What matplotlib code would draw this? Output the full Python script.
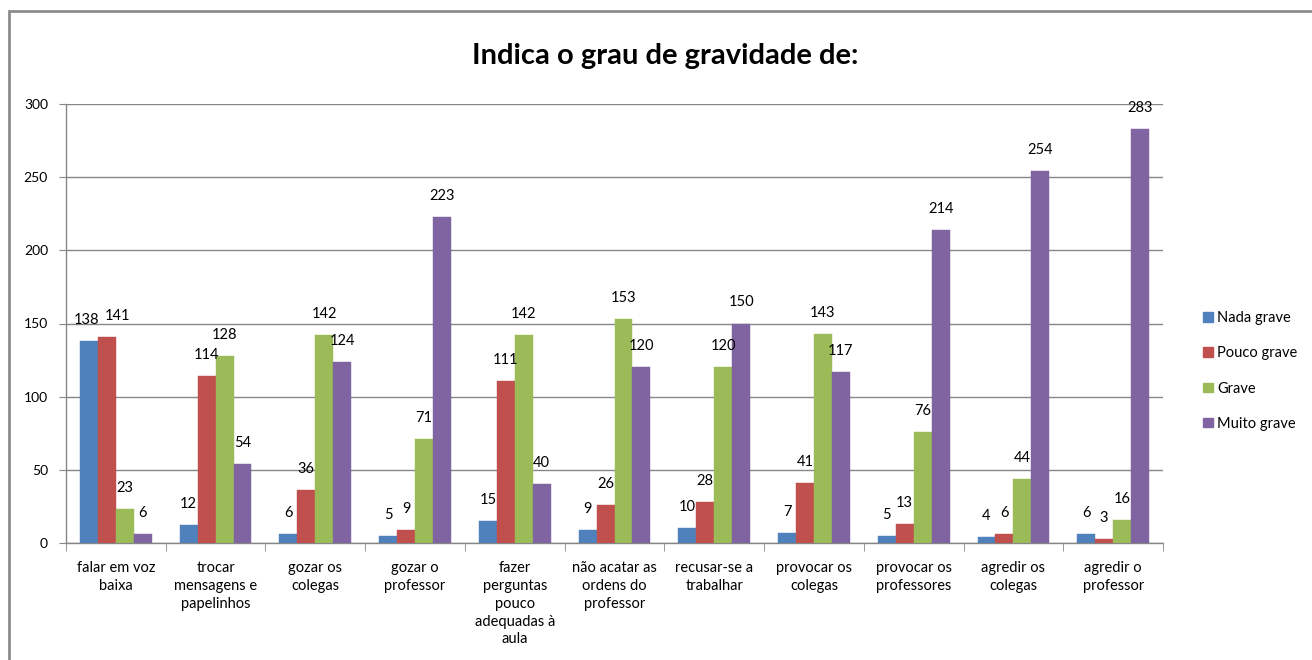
import matplotlib
matplotlib.use("Agg")
import matplotlib.pyplot as plt
import numpy as np
from matplotlib.patches import Rectangle, Patch

categories = ["falar em voz\nbaixa", "trocar\nmensagens e\npapelinhos", "gozar os\ncolegas",
              "gozar o\nprofessor", "fazer\nperguntas\npouco\nadequadas à\naula",
              "não acatar as\nordens do\nprofessor", "recusar-se a\ntrabalhar",
              "provocar os\ncolegas", "provocar os\nprofessores", "agredir os\ncolegas",
              "agredir o\nprofessor"]
series_names = ["Nada grave", "Pouco grave", "Grave", "Muito grave"]
nada_grave = [138, 12, 6, 5, 15, 9, 10, 7, 5, 4, 6]
pouco_grave = [141, 114, 36, 9, 111, 26, 28, 41, 13, 6, 3]
grave = [23, 128, 142, 71, 142, 153, 120, 143, 76, 44, 16]
muito_grave = [6, 54, 124, 223, 40, 120, 150, 117, 214, 254, 283]
series = [nada_grave, pouco_grave, grave, muito_grave]
colors = ["#4F81BD", "#C0504D", "#9BBB59", "#8064A2"]
yticks = [0, 50, 100, 150, 200, 250, 300]

plt.rcParams['font.family'] = ['Lato', 'DejaVu Sans']

W, H = 1312, 660
fig = plt.figure(figsize=(W / 100, H / 100), dpi=100)
ax = fig.add_axes([66 / W, 1 - 543 / H, (1163 - 66) / W, (543 - 104) / H])

# outer frame
fig.patches.append(Rectangle((9 / W, -0.5), 2.0, 1.5 - 11 / H, transform=fig.transFigure,
                             fill=False, edgecolor="#8c8c8c", linewidth=2, zorder=0))

# label nudges (pixels) where labels would collide
label_dx = {(0, 1): 11, (0, 0): -2}

x = np.arange(len(categories))
bw = 0.18
grid_c = "#868686"
for i, (vals, c) in enumerate(zip(series, colors)):
    pos = x + (i - 1.5) * bw
    ax.bar(pos, vals, width=bw, color=c, edgecolor=c, linewidth=0.3, zorder=3, label=series_names[i])
    for j, (px, v) in enumerate(zip(pos, vals)):
        ax.annotate(str(v), (px, v), xytext=(label_dx.get((j, i), 0), 21), textcoords="offset pixels",
                    ha="center", va="center", fontsize=10.5, color="#000000", zorder=4)

ax.set_xlim(-0.5, len(categories) - 0.5)
ax.set_ylim(0, 300)
ax.set_yticks(yticks)
ax.set_yticklabels([str(t) for t in yticks], fontsize=10)
ax.yaxis.grid(True, color=grid_c, linewidth=1, zorder=0)
ax.set_xticks(x)
ax.set_xticklabels(categories, fontsize=10.5, linespacing=1.35)
ax.set_xticks(np.arange(-0.5, len(categories)), minor=True)
ax.tick_params(axis="x", which="major", length=0, pad=13)
ax.tick_params(axis="x", which="minor", length=6, color=grid_c, direction="out")
ax.tick_params(axis="y", length=5, color=grid_c, pad=8)
for s in ["top", "right"]:
    ax.spines[s].set_visible(False)
for s in ["left", "bottom"]:
    ax.spines[s].set_color(grid_c)
    ax.spines[s].set_linewidth(1)

fig.text(665 / W, 1 - 56 / H, "Indica o grau de gravidade de:", ha="center", va="center",
         fontsize=21, fontweight="bold")

handles = [Patch(facecolor=c, edgecolor=c) for c in colors]
fig.legend(handles, series_names, loc="center left", bbox_to_anchor=(1190 / W, 1 - 371 / H),
           frameon=False, fontsize=10.5, handlelength=0.65, handleheight=0.65, handletextpad=0.3,
           labelspacing=1.45)

fig.savefig("out.png", dpi=100, facecolor="white")
